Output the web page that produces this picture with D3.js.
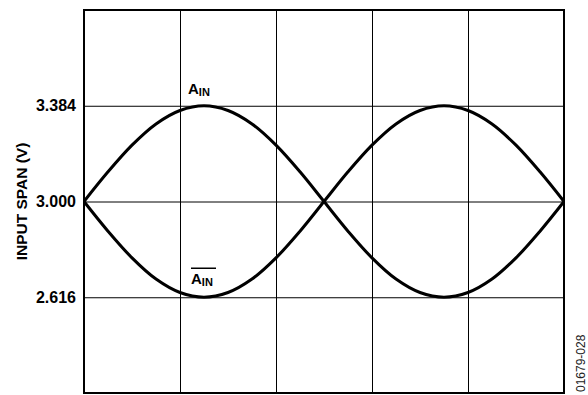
<!DOCTYPE html>
<html>
<head>
<meta charset="utf-8">
<script src="https://cdn.jsdelivr.net/npm/d3@7"></script>
<style>
  body { margin: 0; background: #fff; }
  svg { display: block; font-family: "Liberation Sans", Arial, sans-serif; }
</style>
</head>
<body>
<div id="chart"></div>
<script>
// Values (x in grid divisions, y in volts)
const xValues = [0, 0.25, 0.5, 0.75, 1, 1.25, 1.5, 1.75, 2, 2.25, 2.5,
                 2.75, 3, 3.25, 3.5, 3.75, 4, 4.25, 4.5, 4.75, 5];
const ainValues = [3.000, 3.119, 3.226, 3.311, 3.365, 3.384, 3.365, 3.311, 3.226, 3.119, 3.000,
                   2.881, 2.774, 2.689, 2.635, 2.616, 2.635, 2.689, 2.774, 2.881, 3.000];
const ainBarValues = [3.000, 2.881, 2.774, 2.689, 2.635, 2.616, 2.635, 2.689, 2.774, 2.881, 3.000,
                      3.119, 3.226, 3.311, 3.365, 3.384, 3.365, 3.311, 3.226, 3.119, 3.000];
const yTicks = [2.616, 3.000, 3.384];
const xGrid = [1, 2, 3, 4];

const margin = {top: 10, right: 24, bottom: 2, left: 84};
const width = 480;
const height = 383;

const svg = d3.select("#chart")
    .append("svg")
    .attr("width", 588)
    .attr("height", 395);

const g = svg.append("g")
    .attr("transform", `translate(${margin.left},${margin.top})`);

const x = d3.scaleLinear().domain([0, 5]).range([0, width]);
const y = d3.scaleLinear().domain([2.232, 3.768]).range([height, 0]);

// Horizontal grid + tick labels
const yAxis = g.append("g")
    .call(d3.axisLeft(y).tickValues(yTicks).tickSize(-width).tickSizeOuter(0)
        .tickPadding(8).tickFormat(d3.format(".3f")));
yAxis.select(".domain").remove();
yAxis.selectAll(".tick line").attr("stroke", "#000").attr("stroke-width", 1);
yAxis.selectAll(".tick text")
    .attr("fill", "#000")
    .style("font-size", "16px")
    .style("font-weight", "bold");

// Vertical grid
const xAxis = g.append("g")
    .attr("transform", `translate(0,${height})`)
    .call(d3.axisBottom(x).tickValues(xGrid).tickSize(-height).tickFormat(""));
xAxis.select(".domain").remove();
xAxis.selectAll(".tick line").attr("stroke", "#000").attr("stroke-width", 1);

// Frame
g.append("rect")
    .attr("x", 0)
    .attr("y", 0)
    .attr("width", width)
    .attr("height", height)
    .attr("fill", "none")
    .attr("stroke", "#000")
    .attr("stroke-width", 2);

// Curves
const line = d3.line()
    .x(d => x(d[0]))
    .y(d => y(d[1]))
    .curve(d3.curveCatmullRom);

[ainValues, ainBarValues].forEach(series => {
    g.append("path")
        .datum(xValues.map((v, i) => [v, series[i]]))
        .attr("fill", "none")
        .attr("stroke", "#000")
        .attr("stroke-width", 3)
        .attr("d", line);
});

// Curve labels
function addLabel(px, py, bar) {
    const t = g.append("text")
        .attr("x", px)
        .attr("y", py)
        .style("font-weight", "bold")
        .attr("fill", "#000");
    t.append("tspan").style("font-size", "15px").text("A");
    t.append("tspan").style("font-size", "11px").attr("dy", 2).text("IN");
    if (bar) {
        g.append("line")
            .attr("x1", px)
            .attr("x2", px + 25)
            .attr("y1", py - 16)
            .attr("y2", py - 16)
            .attr("stroke", "#000")
            .attr("stroke-width", 1.5);
    }
}
addLabel(x(1.25) - 16, y(3.384) - 12, false);
addLabel(x(1.25) - 13, y(2.616) - 13, true);

// Y axis title
g.append("text")
    .attr("transform", "rotate(-90)")
    .attr("x", -y(3.0))
    .attr("y", -margin.left + 27)
    .attr("text-anchor", "middle")
    .style("font-size", "15.5px")
    .style("font-weight", "bold")
    .text("INPUT SPAN (V)");

// Figure code
svg.append("text")
    .attr("transform", "rotate(-90)")
    .attr("x", -392)
    .attr("y", 585)
    .attr("text-anchor", "start")
    .style("font-size", "12px")
    .attr("fill", "#222")
    .text("01679-028");
</script>
</body>
</html>
